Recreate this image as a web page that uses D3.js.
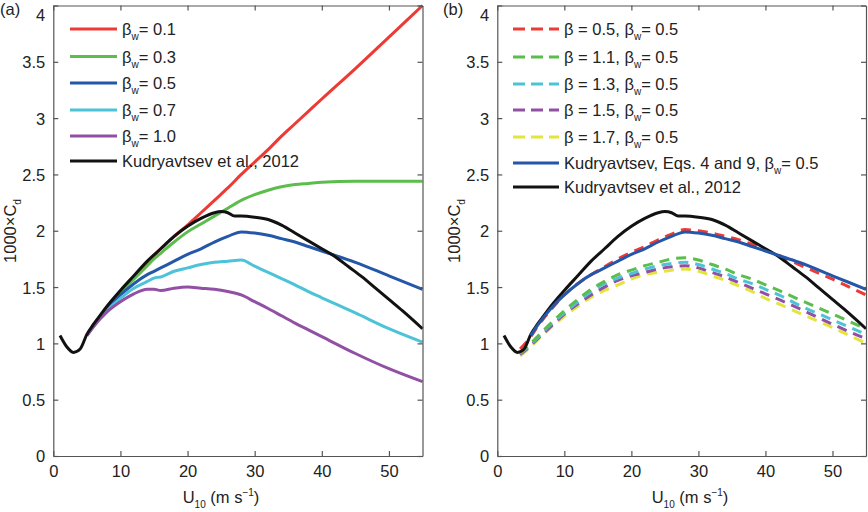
<!DOCTYPE html>
<html>
<head>
<meta charset="utf-8">
<script src="https://cdn.jsdelivr.net/npm/d3@7"></script>
<style>
  body { margin: 0; background: #fff; }
  svg { font-family: "Liberation Sans", Arial, sans-serif; }
</style>
</head>
<body>
<div id="chart"></div>
<script>
// ---- data ----
// shared wind speeds for the black Kudryavtsev 2012 curve
const uKud = [1, 2, 3, 4, 5, 6, 7, 8, 10, 12, 14, 16, 18, 20, 22, 24, 25, 26, 27, 28, 30, 32, 34, 36, 38, 40, 42, 44, 46, 48, 50, 52, 55];
const cdKud = [1.07, 0.97, 0.92, 0.95, 1.08, 1.17, 1.25, 1.33, 1.47, 1.60, 1.73, 1.84, 1.95, 2.04, 2.11, 2.16, 2.17, 2.16, 2.13, 2.13, 2.12, 2.10, 2.05, 1.98, 1.91, 1.84, 1.77, 1.68, 1.59, 1.49, 1.39, 1.29, 1.13];

// panel (a): model curves for different beta_w
const uA = [5, 6, 8, 10, 12, 14, 15, 16, 18, 20, 22, 24, 26, 28, 30, 32, 34, 36, 38, 40, 45, 50, 55];
const cdBw01 = [1.07, 1.16, 1.32, 1.46, 1.59, 1.72, 1.78, 1.84, 1.95, 2.05, 2.16, 2.27, 2.38, 2.50, 2.61, 2.72, 2.84, 2.95, 3.06, 3.17, 3.44, 3.72, 4.00];
const cdBw03 = [1.07, 1.16, 1.31, 1.45, 1.57, 1.69, 1.75, 1.80, 1.90, 1.99, 2.06, 2.13, 2.20, 2.27, 2.32, 2.36, 2.39, 2.41, 2.42, 2.43, 2.44, 2.44, 2.44];
const cdBw05 = [1.07, 1.16, 1.31, 1.43, 1.53, 1.61, 1.64, 1.67, 1.73, 1.79, 1.84, 1.90, 1.95, 1.99, 1.98, 1.96, 1.93, 1.90, 1.86, 1.82, 1.72, 1.60, 1.48];
const cdBw07 = [1.07, 1.15, 1.29, 1.40, 1.49, 1.55, 1.58, 1.59, 1.64, 1.67, 1.70, 1.72, 1.73, 1.74, 1.685, 1.63, 1.575, 1.52, 1.46, 1.405, 1.27, 1.13, 1.01];
const cdBw10 = [1.07, 1.15, 1.28, 1.37, 1.44, 1.48, 1.48, 1.47, 1.49, 1.50, 1.49, 1.48, 1.46, 1.43, 1.37, 1.31, 1.245, 1.18, 1.12, 1.06, 0.91, 0.775, 0.66];

// panel (b): dashed curves for different beta at beta_w = 0.5
const uB = [3.4, 5, 6, 8, 10, 12, 14, 16, 18, 20, 22, 24, 26, 28, 30, 32, 34, 36, 38, 40, 42, 45, 50, 55];
const cdB05 = [0.95, 1.06, 1.15, 1.30, 1.43, 1.53, 1.61, 1.68, 1.75, 1.81, 1.86, 1.92, 1.97, 2.01, 2.00, 1.98, 1.95, 1.92, 1.88, 1.83, 1.78, 1.70, 1.57, 1.43];
const cdB11 = [0.91, 1.00, 1.06, 1.18, 1.29, 1.39, 1.48, 1.55, 1.61, 1.65, 1.69, 1.72, 1.75, 1.76, 1.74, 1.70, 1.66, 1.61, 1.57, 1.52, 1.47, 1.39, 1.26, 1.13];
const cdB13 = [0.91, 0.99, 1.05, 1.17, 1.27, 1.37, 1.46, 1.53, 1.58, 1.62, 1.66, 1.69, 1.71, 1.72, 1.70, 1.66, 1.62, 1.57, 1.53, 1.48, 1.43, 1.34, 1.21, 1.08];
const cdB15 = [0.90, 0.98, 1.04, 1.15, 1.26, 1.35, 1.43, 1.50, 1.56, 1.60, 1.63, 1.66, 1.68, 1.69, 1.67, 1.63, 1.59, 1.54, 1.49, 1.44, 1.39, 1.31, 1.17, 1.04];
const cdB17 = [0.89, 0.97, 1.03, 1.14, 1.24, 1.33, 1.41, 1.47, 1.52, 1.57, 1.61, 1.63, 1.65, 1.66, 1.64, 1.60, 1.56, 1.51, 1.46, 1.40, 1.35, 1.27, 1.14, 1.00];
const uEq = [5, 6, 8, 10, 12, 14, 15, 16, 18, 20, 22, 24, 26, 28, 30, 32, 34, 36, 38, 40, 42, 45, 50, 55];
const cdEq = [1.07, 1.16, 1.31, 1.43, 1.53, 1.61, 1.64, 1.67, 1.73, 1.79, 1.84, 1.90, 1.95, 1.99, 1.98, 1.96, 1.93, 1.90, 1.86, 1.82, 1.78, 1.72, 1.60, 1.48];

const xTicks = [0, 10, 20, 30, 40, 50];
const yTicks = [0, 0.5, 1, 1.5, 2, 2.5, 3, 3.5, 4];

const colRed = "#ee3a34", colGreen = "#5bbd4b", colBlue = "#2457a9",
      colCyan = "#4cc3d6", colPurple = "#9150a3", colYellow = "#e4e43c", colBlack = "#121212";

function zip(xs, ys) { return xs.map((u, i) => ({u: u, cd: ys[i]})); }

const seriesA = [
    {label: "0.1", color: colRed, data: zip(uA, cdBw01)},
    {label: "0.3", color: colGreen, data: zip(uA, cdBw03)},
    {label: "0.5", color: colBlue, data: zip(uA, cdBw05)},
    {label: "0.7", color: colCyan, data: zip(uA, cdBw07)},
    {label: "1.0", color: colPurple, data: zip(uA, cdBw10)},
    {label: "kud", color: colBlack, data: zip(uKud, cdKud)}
];

const seriesB = [
    {label: "0.5", color: colRed, dash: true, data: zip(uB, cdB05)},
    {label: "1.1", color: colGreen, dash: true, data: zip(uB, cdB11)},
    {label: "1.3", color: colCyan, dash: true, data: zip(uB, cdB13)},
    {label: "1.5", color: colPurple, dash: true, data: zip(uB, cdB15)},
    {label: "1.7", color: colYellow, dash: true, data: zip(uB, cdB17)},
    {label: "eq", color: colBlue, data: zip(uEq, cdEq)},
    {label: "kud", color: colBlack, data: zip(uKud, cdKud)}
];

const svg = d3.select("#chart").append("svg")
    .attr("width", 868)
    .attr("height", 512);

const fontSize = 16.5;

function drawPanel(left, right, series, drawOrder, legendFn, panelText, panelX, xTitleX, yTitleX) {
    let top = 5.5, bottom = 456;

    let x = d3.scaleLinear().domain([0, 55]).range([left, right]);
    let y = d3.scaleLinear().domain([0, 4]).range([bottom, top]);

    let g = svg.append("g");

    // lines
    let line = d3.line().x(d => x(d.u)).y(d => y(d.cd)).curve(d3.curveMonotoneX);
    drawOrder.forEach(i => {
        let s = series[i];
        g.append("path")
            .datum(s.data)
            .attr("d", line)
            .attr("fill", "none")
            .attr("stroke", s.color)
            .attr("stroke-width", 3)
            .attr("stroke-dasharray", s.dash ? "10,7" : null)
            .attr("stroke-linejoin", "round");
    });

    // axes, matlab style: ticks inward on all four sides
    let axB = g.append("g").attr("transform", "translate(0," + bottom + ")")
        .call(d3.axisBottom(x).tickValues(xTicks).tickSizeInner(-5).tickSizeOuter(0).tickPadding(9).tickFormat(d3.format("d")));
    let axT = g.append("g").attr("transform", "translate(0," + top + ")")
        .call(d3.axisTop(x).tickValues(xTicks).tickSizeInner(-5).tickSizeOuter(0).tickFormat(""));
    let axL = g.append("g").attr("transform", "translate(" + left + ",0)")
        .call(d3.axisLeft(y).tickValues(yTicks).tickSizeInner(-5).tickSizeOuter(0).tickPadding(8).tickFormat(d => String(d)));
    let axR = g.append("g").attr("transform", "translate(" + right + ",0)")
        .call(d3.axisRight(y).tickValues(yTicks).tickSizeInner(-5).tickSizeOuter(0).tickFormat(""));

    [axB, axT, axL, axR].forEach(a => {
        a.select(".domain").attr("stroke", "#555").attr("stroke-width", 1.2);
        a.selectAll(".tick line").attr("stroke", "#555").attr("stroke-width", 1.2);
        a.selectAll("text").attr("font-size", fontSize).attr("fill", "#222")
            .attr("font-family", "'Liberation Sans', Arial, sans-serif");
    });
    axB.selectAll("text").attr("dy", "0.71em");
    axL.selectAll("text").attr("dy", "0.36em");
    // top label sits right at the frame edge, nudge it inside the page
    axL.selectAll("text").filter(d => d === 4).attr("y", 9);

    // axis titles
    let xt = g.append("text")
        .attr("x", xTitleX).attr("y", 503)
        .attr("text-anchor", "middle")
        .attr("font-size", fontSize).attr("fill", "#222");
    xt.append("tspan").text("U");
    xt.append("tspan").text("10").attr("font-size", 10).attr("dy", 5);
    xt.append("tspan").text(" (m s").attr("dy", -5);
    xt.append("tspan").text("\u22121").attr("font-size", 10).attr("dy", -7);
    xt.append("tspan").text(")").attr("dy", 7);

    let yt = g.append("text")
        .attr("transform", "translate(" + yTitleX + ",231) rotate(-90)")
        .attr("text-anchor", "middle")
        .attr("font-size", fontSize).attr("fill", "#222");
    yt.append("tspan").text("1000\u00d7C");
    yt.append("tspan").text("d").attr("font-size", 10).attr("dy", 5);

    // panel label
    svg.append("text")
        .attr("x", panelX).attr("y", 15)
        .attr("font-size", fontSize).attr("fill", "#222")
        .text(panelText);

    legendFn(g, series);
}

function legendA(g, series) {
    let rowY = [29, 56.5, 83, 110, 136, 161];
    series.forEach((s, i) => {
        let yy = rowY[i];
        g.append("line")
            .attr("x1", 70).attr("x2", 117)
            .attr("y1", yy).attr("y2", yy)
            .attr("stroke", s.color).attr("stroke-width", 3);
        let t = g.append("text")
            .attr("x", 122).attr("y", yy + 6)
            .attr("font-size", fontSize).attr("fill", "#222");
        if (s.label === "kud") {
            t.text("Kudryavtsev et al., 2012");
        } else {
            t.append("tspan").text("\u03b2");
            t.append("tspan").text("w").attr("font-size", 10).attr("dy", 5);
            t.append("tspan").text("= " + s.label).attr("dy", -5);
        }
    });
}

function legendB(g, series) {
    let rowY = [29, 57, 84, 110, 137, 163, 187];
    // legend order as in the figure: the five dashed, then blue, then black
    series.forEach((s, i) => {
        let yy = rowY[i];
        g.append("line")
            .attr("x1", 513).attr("x2", 559)
            .attr("y1", yy).attr("y2", yy)
            .attr("stroke", s.color).attr("stroke-width", 3)
            .attr("stroke-dasharray", s.dash ? "12,6" : null);
        let t = g.append("text")
            .attr("x", 564).attr("y", yy + 6)
            .attr("font-size", fontSize).attr("fill", "#222");
        if (s.label === "kud") {
            t.text("Kudryavtsev et al., 2012");
        } else if (s.label === "eq") {
            t.append("tspan").text("Kudryavtsev, Eqs. 4 and 9, \u03b2");
            t.append("tspan").text("w").attr("font-size", 10).attr("dy", 5);
            t.append("tspan").text("= 0.5").attr("dy", -5);
        } else {
            t.append("tspan").text("\u03b2 = " + s.label + ", \u03b2");
            t.append("tspan").text("w").attr("font-size", 10).attr("dy", 5);
            t.append("tspan").text("= 0.5").attr("dy", -5);
        }
    });
}

drawPanel(53.3, 422.5, seriesA, [0, 1, 2, 3, 4, 5], legendA, "(a)", 0, 221, 16);
drawPanel(497.3, 866, seriesB, [4, 3, 2, 1, 0, 6, 5], legendB, "(b)", 443, 690, 460);
</script>
</body>
</html>
